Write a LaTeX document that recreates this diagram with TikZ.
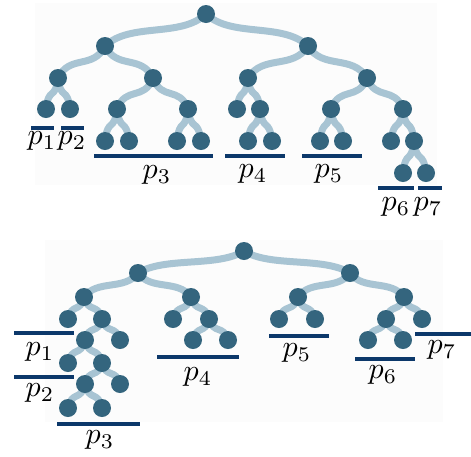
\documentclass[tikz,border=0pt]{standalone}
\usetikzlibrary{backgrounds,calc}
\definecolor{nodecol}{RGB}{52,101,126}
\definecolor{linkcol}{RGB}{168,196,211}
\definecolor{barcol}{RGB}{12,56,106}
\definecolor{bgcol}{RGB}{252,252,252}
\tikzset{
  treenode/.style={circle,fill=nodecol,minimum size=18pt,inner sep=0pt},
  linkstyle/.style={draw=linkcol,line width=7pt},
  partbar/.style={draw=barcol,line width=4pt},
  plabel/.style={inner sep=0pt,scale=3.0},
  bgpanel/.style={fill=bgcol,draw=none}
}
\newcommand\treelink[2]{\draw[linkstyle] let \p1=(#1.center), \p2=(#2.center) in (\p1) .. controls ({\x1+0.25*(\x2-\x1)},{\y1+0.75*(\y2-\y1)}) and ({\x2-0.25*(\x2-\x1)},{\y2-0.75*(\y2-\y1)}) .. (\p2);}
\begin{document}
\begin{tikzpicture}[x=1pt,y=-1pt]
\useasboundingbox (0,0) rectangle (471,456);
% top tree nodes
\foreach \n/\x/\y in {T1/206/14, T2/105/46, T3/308/46, T4/58/78, T5/153/78, T6/248/78, T7/367/78,
  T8/46/109, T9/70/109, T10/117/109, T11/188/109, T12/237/109, T13/260/109, T14/331/109, T15/403/109,
  T16/105/141, T17/129/141, T18/177/141, T19/201/141, T20/248/141, T21/272/141, T22/320/141, T23/343/141, T24/391/141, T25/414/141,
  T26/403/173, T27/426/173}
  \node[treenode] (\n) at (\x,\y) {};
% bottom tree nodes
\foreach \n/\x/\y in {B1/244/251, B2/138/273, B3/350/273, B4/84/297, B5/191/297, B6/298/297, B7/404/297,
  B8/68/319, B9/102/319, B10/173/319, B11/209/319, B12/279/319, B13/315/319, B14/386/319, B15/422/319,
  B16/85/340, B17/120/340, B18/193/340, B19/228/340, B20/368/340, B21/403/340,
  B22/68/363, B23/102/363, B24/85/384, B25/120/384, B26/68/408, B27/102/408}
  \node[treenode] (\n) at (\x,\y) {};
% bar end points
\foreach \n/\xa/\xb/\y in {ta1/31/54/128, ta2/61/84/128, ta3/94/213/156, ta4/225/285/156, ta5/302/362/156, ta6/378/414/188, ta7/418/442/188,
  ba1/14/74/333, ba2/14/74/377, ba3/57/140/424, ba4/157/239/357, ba5/269/329/336, ba6/355/415/359, ba7/415/471/334}
  {\coordinate (\n l) at (\xa,\y); \coordinate (\n r) at (\xb,\y);}
% labels
\node[plabel] (lt1) at (42,141) {$p_1$};
\node[plabel] (lt2) at (72,141) {$p_2$};
\node[plabel] (lt3) at (157,175) {$p_3$};
\node[plabel] (lt4) at (253,174) {$p_4$};
\node[plabel] (lt5) at (329,174) {$p_5$};
\node[plabel] (lt6) at (396,207) {$p_6$};
\node[plabel] (lt7) at (428,207) {$p_7$};
\node[plabel] (lb1) at (40,352) {$p_1$};
\node[plabel] (lb2) at (40,393) {$p_2$};
\node[plabel] (lb3) at (100,440) {$p_3$};
\node[plabel] (lb4) at (198,377) {$p_4$};
\node[plabel] (lb5) at (297,353) {$p_5$};
\node[plabel] (lb6) at (383,375) {$p_6$};
\node[plabel] (lb7) at (442,350) {$p_7$};
\begin{scope}[on background layer]
  \fill[bgpanel] (35,3) rectangle (437,185);
  \fill[bgpanel] (45,240) rectangle (443,422);
  \foreach \a/\b in {T1/T2,T1/T3,T2/T4,T2/T5,T3/T6,T3/T7,T4/T8,T4/T9,T5/T10,T5/T11,T6/T12,T6/T13,T7/T14,T7/T15,
    T10/T16,T10/T17,T11/T18,T11/T19,T13/T20,T13/T21,T14/T22,T14/T23,T15/T24,T15/T25,T25/T26,T25/T27,
    B1/B2,B1/B3,B2/B4,B2/B5,B3/B6,B3/B7,B4/B8,B4/B9,B5/B10,B5/B11,B6/B12,B6/B13,B7/B14,B7/B15,
    B9/B16,B9/B17,B11/B18,B11/B19,B14/B20,B14/B21,B16/B22,B16/B23,B23/B24,B23/B25,B24/B26,B24/B27}
    \treelink{\a}{\b};
  \foreach \n in {ta1,ta2,ta3,ta4,ta5,ta6,ta7,ba1,ba2,ba3,ba4,ba5,ba6,ba7}
    \draw[partbar] (\n l) -- (\n r);
\end{scope}
\end{tikzpicture}
\end{document}
